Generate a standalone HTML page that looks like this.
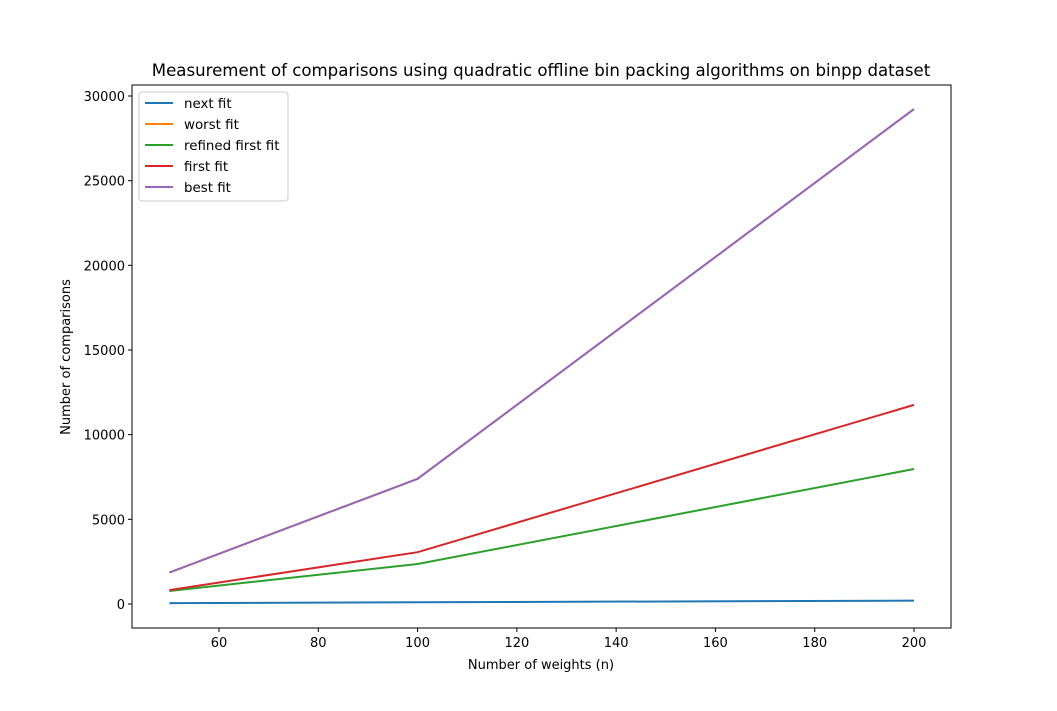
<!DOCTYPE html>
<html><head><meta charset="utf-8"><style>
body{margin:0;background:#fff;}
text{font-family:"DejaVu Sans","Liberation Sans",sans-serif;fill:#000;}
</style></head><body>
<svg id="chart" width="1057" height="706" xmlns="http://www.w3.org/2000/svg">
<rect width="1057" height="706" fill="#fff"/>
<text x="541" y="76" font-size="16.6" text-anchor="middle">Measurement of comparisons using quadratic offline bin packing algorithms on binpp dataset</text>
<g id="plot"></g>
<text x="541" y="669" font-size="13" text-anchor="middle">Number of weights (n)</text>
<text x="70" y="357" font-size="13" text-anchor="middle" transform="rotate(-90 70 357)">Number of comparisons</text>
</svg>
<script>
const xs=[50,100,200];
const nextFit=[50,100,200];
const worstFit=[1860,7390,29230];
const refinedFirstFit=[770,2360,7970];
const firstFit=[820,3060,11760];
const bestFit=[1860,7390,29230];
const xTicks=[60,80,100,120,140,160,180,200];
const yTicks=[0,5000,10000,15000,20000,25000,30000];
const seriesNames=["next fit","worst fit","refined first fit","first fit","best fit"];
const colors=["#1f77b4","#ff7f0e","#2ca02c","#d62728","#9467bd"];
const series=[nextFit,worstFit,refinedFirstFit,firstFit,bestFit];
const L=132,R=951,T=85,B=628;
const X=v=>219+(v-60)*(914-219)/140;
const Y=v=>604-v*(604-96)/30000;
const NS="http://www.w3.org/2000/svg";
const g=document.getElementById('plot');
function mk(t,a){const e=document.createElementNS(NS,t);for(const k in a)e.setAttribute(k,a[k]);g.appendChild(e);return e;}
xTicks.forEach(t=>{
  const l=mk('line',{x1:X(t),x2:X(t),y1:B,y2:B+4,stroke:'#000'});
  
  
  const tx=mk('text',{x:X(t),y:B+19,'font-size':13,'text-anchor':'middle'});tx.textContent=t;
  
  
});
yTicks.forEach(t=>{
  const l=mk('line',{x1:L-4,x2:L,y1:Y(t),y2:Y(t),stroke:'#000'});
  
  
  const tx=mk('text',{x:L-7,y:Y(t)+5,'font-size':13,'text-anchor':'end'});tx.textContent=t;
  
  
});
series.forEach((s,i)=>{
  const p=mk('polyline',{points:s.map((v,j)=>X(xs[j])+','+Y(v)).join(' '),fill:'none',stroke:colors[i],'stroke-width':2});
  
  
});
const fr=mk('rect',{x:L,y:T,width:R-L,height:B-T,fill:'none',stroke:'#000','stroke-width':1});


const lg=mk('rect',{x:139,y:92,width:149,height:109,fill:'#fff',stroke:'#ccc',rx:3});


seriesNames.forEach((n,i)=>{
  const y=103+i*21;
  const l=mk('line',{x1:145,x2:173,y1:y,y2:y,stroke:colors[i],'stroke-width':2});
  
  
  const t=mk('text',{x:184,y:y+5,'font-size':13.4});t.textContent=n;
  
  
});
</script>
</body></html>
